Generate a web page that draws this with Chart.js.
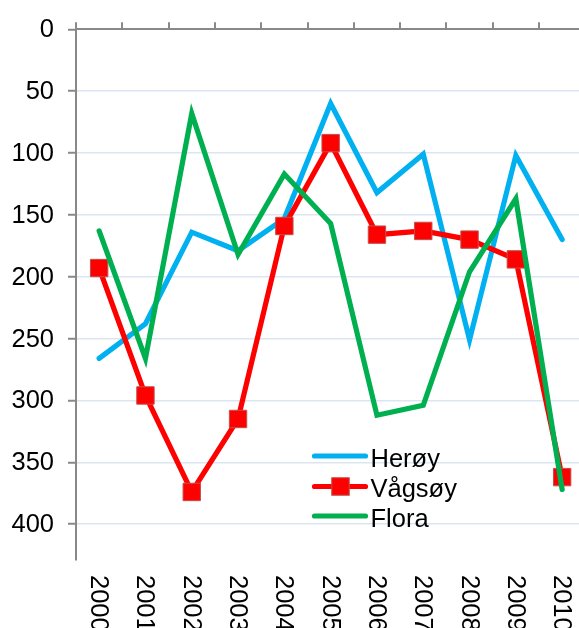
<!DOCTYPE html>
<html>
<head>
<meta charset="utf-8">
<script src="https://cdn.jsdelivr.net/npm/chart.js@4.4.1/dist/chart.umd.min.js"></script>
<style>
  html, body { margin: 0; padding: 0; background: #fff; overflow: hidden; }
</style>
</head>
<body>
<canvas id="myChart" width="600" height="628"></canvas>
<script>
// data (y axis is reversed: 0 at top)
const years = ["2000", "2001", "2002", "2003", "2004", "2005", "2006", "2007", "2008", "2009", "2010"];
const heroy = [266, 238, 164, 179, 153, 60, 132, 101, 251, 102, 170];
const vagsoy = [193, 296, 374, 315, 159, 92, 166, 163, 170, 186, 362];
const flora = [163, 266, 68, 182, 117, 157, 312, 304, 196, 137, 372];
const yTicks = [0, 50, 100, 150, 200, 250, 300, 350, 400];

const FONT = '"Liberation Sans", Arial, sans-serif';
const FSIZE = 25.5;
const AXIS = '#898989';
const LW = 5.2;

// legend sits inside the plot, lower right
const innerLegend = {
  id: 'innerLegend',
  afterDatasetsDraw(chart) {
    const ctx = chart.ctx;
    const rows = [456, 486.5, 516];
    chart.data.datasets.forEach((ds, i) => {
      const y = rows[i];
      ctx.save();
      ctx.strokeStyle = ds.borderColor;
      ctx.lineWidth = LW;
      ctx.lineCap = 'round';
      ctx.beginPath();
      ctx.moveTo(314.5, y);
      ctx.lineTo(365.5, y);
      ctx.stroke();
      if (ds.pointRadius > 0) {
        const s = 17.5;
        ctx.fillStyle = ds.pointBackgroundColor;
        ctx.fillRect(340.5 - s / 2, y - s / 2, s, s);
        ctx.strokeStyle = ds.pointBorderColor;
        ctx.lineWidth = 1;
        ctx.strokeRect(340.5 - s / 2, y - s / 2, s, s);
      }
      ctx.fillStyle = '#000';
      ctx.font = FSIZE + 'px ' + FONT;
      ctx.textBaseline = 'alphabetic';
      ctx.fillText(ds.label, 370.5, y + 10.5);
      ctx.restore();
    });
  }
};

// category labels at the bottom, turned 90 degrees clockwise
const bottomLabels = {
  id: 'bottomLabels',
  afterDraw(chart) {
    const ctx = chart.ctx;
    const xs = chart.scales.x;
    ctx.save();
    ctx.font = FSIZE + 'px ' + FONT;
    ctx.fillStyle = '#000';
    ctx.textAlign = 'left';
    ctx.textBaseline = 'middle';
    chart.data.labels.forEach((lab, i) => {
      ctx.save();
      ctx.translate(xs.getPixelForTick(i) - 1, 575);
      ctx.rotate(Math.PI / 2);
      ctx.fillText(lab, 0, 0);
      ctx.restore();
    });
    ctx.restore();
  }
};

const ctx = document.getElementById('myChart');
new Chart(ctx, {
  type: 'line',
  data: {
    labels: years,
    datasets: [
      {
        label: 'Herøy', data: heroy,
        borderColor: '#00b0f0', backgroundColor: '#00b0f0',
        borderWidth: LW, pointRadius: 0, order: 3
      },
      {
        label: 'Vågsøy', data: vagsoy,
        borderColor: '#ff0000', backgroundColor: '#ff0000',
        borderWidth: LW, pointStyle: 'rect', pointRadius: 12.3,
        pointBackgroundColor: '#ff0000', pointBorderColor: '#c0504d', pointBorderWidth: 1,
        order: 2
      },
      {
        label: 'Flora', data: flora,
        borderColor: '#00b050', backgroundColor: '#00b050',
        borderWidth: LW, pointRadius: 0, order: 1
      }
    ]
  },
  options: {
    responsive: false,
    animation: false,
    layout: { padding: { top: 19, left: 0, right: 14.7, bottom: 68 } },
    elements: { line: { tension: 0, borderCapStyle: 'round' } },
    plugins: { legend: { display: false }, tooltip: { enabled: false } },
    scales: {
      x: {
        position: 'top',
        offset: true,
        grid: { offset: true, drawOnChartArea: false, tickLength: 7, color: AXIS, lineWidth: 2 },
        border: { color: AXIS, width: 2 },
        ticks: { display: false },
        afterFit(s) { s.height = 7; }
      },
      y: {
        reverse: true,
        min: 0,
        max: 429,
        afterBuildTicks(s) { s.ticks = yTicks.map(v => ({ value: v })); },
        grid: {
          color: c => (c.tick && c.tick.value === 0 ? 'rgba(0,0,0,0)' : '#dce6f2'),
          lineWidth: 1.5,
          tickColor: AXIS, tickLength: 8, tickWidth: 2
        },
        border: { color: AXIS, width: 2 },
        ticks: { padding: 14, labelOffset: 1, color: '#000', font: { family: FONT, size: FSIZE } },
        afterFit(s) { s.width = 76; }
      }
    }
  },
  plugins: [innerLegend, bottomLabels]
});
</script>
</body>
</html>
